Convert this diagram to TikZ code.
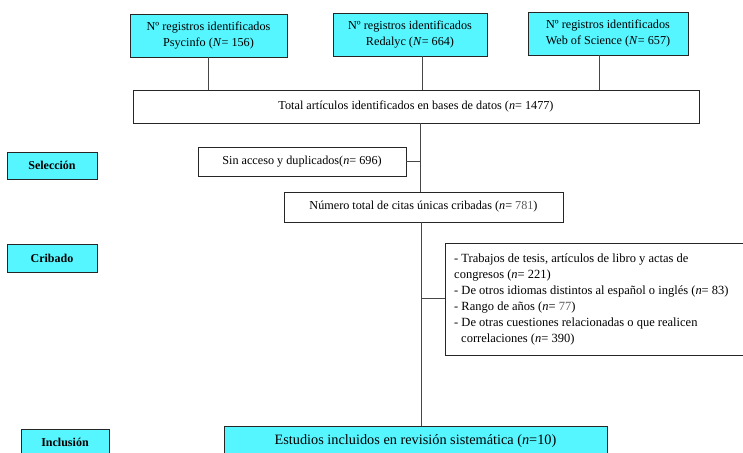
\documentclass[tikz,border=0pt]{standalone}
\usepackage{fontspec}
\setmainfont{Liberation Serif}
\definecolor{cyanfill}{RGB}{85,246,255}
\definecolor{linegray}{RGB}{70,70,70}
\definecolor{numgray}{RGB}{90,90,90}
\begin{document}
\begin{tikzpicture}[x=1pt,y=-1pt,
  box/.style={draw=black!85, line width=0.9pt, inner sep=0pt, align=center,
    font=\fontsize{12.2}{15.5}\selectfont},
  cbox/.style={box, fill=cyanfill},
  lab/.style={cbox, font=\fontsize{12}{14}\selectfont\bfseries},
  conn/.style={draw=linegray, line width=0.9pt}]
\useasboundingbox (0,0) rectangle (743,452);
\clip (0,0) rectangle (743,452);
% source boxes
\node[cbox, minimum width=157pt, minimum height=43pt] (psy) at (208.5,35.5)
  {Nº registros identificados\\Psycinfo (\textit{N}= 156)};
\node[cbox, minimum width=154pt, minimum height=43pt] (red) at (410,34.5)
  {Nº registros identificados\\Redalyc (\textit{N}= 664)};
\node[cbox, minimum width=160pt, minimum height=43pt] (wos) at (608,33.5)
  {Nº registros identificados\\Web of Science (\textit{N}= 657)};
% total
\node[box, minimum width=566pt, minimum height=33pt] (tot) at (416,106.5)
  {Total artículos identificados en bases de datos (\textit{n}= 1477)};
% stage labels
\node[lab, minimum width=90pt, minimum height=27pt] (sel) at (52,165.5) {Selección};
\node[lab, minimum width=90pt, minimum height=28pt] (crib) at (52,258) {Cribado};
\node[lab, minimum width=88pt, minimum height=27pt] (incl) at (65,442.5) {Inclusión};
% selection
\node[box, minimum width=208pt, minimum height=29pt] (sin) at (302,161.5)
  {Sin acceso y duplicados(\textit{n}= 696)};
\node[box, minimum width=279pt, minimum height=30pt] (num) at (423.5,207)
  {Número total de citas únicas cribadas (\textit{n}= {\color{numgray}781})};
% exclusion
\node[box, minimum width=300pt, minimum height=112pt] (exc) at (595,299) {};
\node[anchor=north west, align=left, inner sep=0pt,
  font=\fontsize{12.5}{16}\selectfont] (exctxt) at (454,253.5)
  {- Trabajos de tesis, artículos de libro y actas de\\
   congresos (\textit{n}= 221)\\
   - De otros idiomas distintos al español o inglés (\textit{n}= 83)\\
   - Rango de años (\textit{n}= {\color{numgray}77})\\
   - De otras cuestiones relacionadas o que realicen\\
   \hspace*{7pt}correlaciones (\textit{n}= 390)};
% inclusion
\node[cbox, minimum width=383pt, minimum height=30pt,
  font=\fontsize{14.3}{17}\selectfont] (est) at (415.5,441)
  {Estudios incluidos en revisión sistemática (\textit{n}=10)};
% connectors
\draw[conn] (psy.south) -- (psy.south |- tot.north);
\draw[conn] (red.south -| 422,0) -- (422,0 |- tot.north);
\draw[conn] (wos.south -| 599,0) -- (599,0 |- tot.north);
\coordinate (j1) at (420,161.5);
\draw[conn] (tot.south -| j1) -- (num.north -| j1);
\draw[conn] (sin.east) -- (j1);
\coordinate (j2) at (421,298);
\draw[conn] (num.south -| j2) -- (est.north -| j2);
\draw[conn] (j2) -- (j2 -| exc.west);
\end{tikzpicture}
\end{document}
